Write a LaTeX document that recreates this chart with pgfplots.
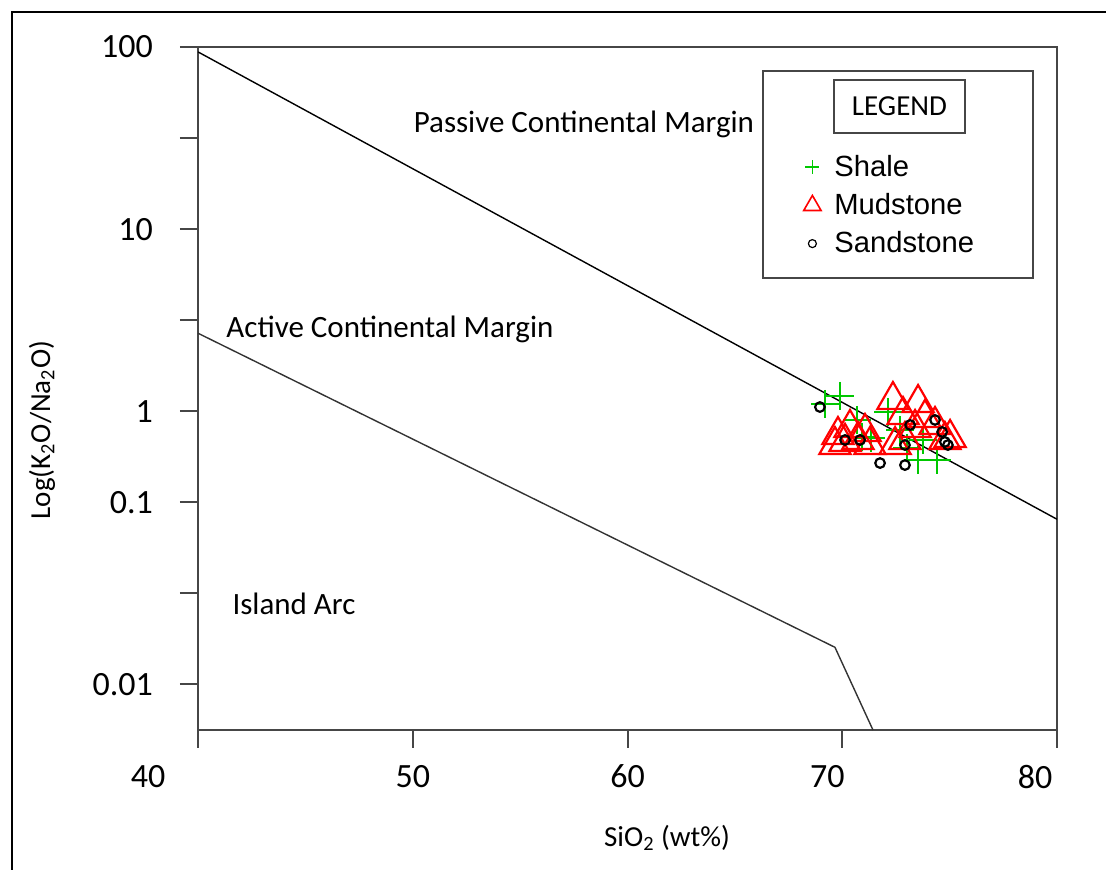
\documentclass[border=0pt]{standalone}
\usepackage{pgfplots}
\pgfplotsset{compat=1.18}
\usepackage{fontspec}
\setmainfont{Carlito}
\newfontfamily\arial{Liberation Sans}
\definecolor{shalegreen}{RGB}{0,200,0}
\definecolor{axisgray}{RGB}{70,70,70}
\begin{document}
\begin{tikzpicture}
\useasboundingbox (-99pt,-70pt) rectangle (454pt,365pt);
\draw[line width=1.1pt] (-93pt,-80pt) -- (-93pt,359pt) -- (470pt,359pt);
\begin{axis}[
  at={(0,0)}, anchor=south west, scale only axis,
  width=429.5pt, height=341.5pt,
  xmin=40, xmax=80, ymode=log, ymin=0.01775, ymax=100,
  axis line style={line width=1pt, draw=axisgray},
  every tick/.style={line width=1pt, axisgray},
  tick align=outside, major tick length=9pt,
  tick pos=left,
  yminorticks=false,
  xtick={40,50,60,70,80},
  xticklabels={\kern-25pt 40\kern25pt, 50, 60, \kern-7.5pt 70\kern7.5pt, \kern-11pt\raisebox{-3pt}{80}\kern11pt},
  ytick={100,31.623,10,3.1623,1,0.31623,0.1,0.031623},
  yticklabels={100,,10,,1,0.1,,0.01},
  ticklabel style={font=\fontsize{17}{20}\selectfont},
  yticklabel style={xshift=-10pt},
  xticklabel style={yshift=-5pt},
  /pgf/number format/assume math mode=true,
  xlabel={SiO\textsubscript{2} (wt\%)},
  xlabel style={font=\fontsize{14.5}{17}\selectfont, at={(axis description cs:0.546,-0.158)}, anchor=center},
  ylabel={Log(K\textsubscript{2}O/Na\textsubscript{2}O)},
  ylabel style={font=\fontsize{14.5}{17}\selectfont, at={(axis description cs:-0.1816,0.439)}, anchor=center, rotate=0},
  legend style={draw=none, fill=none, at={(axis description cs:0.7047,0.848)}, anchor=north west,
    font=\arial\fontsize{14.6}{16.5}\selectfont, row sep=3pt, inner sep=0pt},
  legend cell align=left,
  legend image code/.code={\draw[mark repeat=2,mark phase=2,#1] plot coordinates {(0cm,0cm)(0.15cm,0cm)(0.3cm,0cm)}; \path[draw=none,fill=none] (0.15cm,0cm) -- ++(9pt,0pt);},
]
% boundary lines
\addplot[black, line width=0.7pt, forget plot] coordinates {(40,94) (80,0.255)};
\addplot[black!80, line width=0.7pt, forget plot] coordinates {(40,2.68) (69.66,0.0505) (71.43,0.01775)};
% Shale
\addplot[only marks, mark=+, mark size=7pt, draw=shalegreen, line width=1.1pt,
  legend image post style={mark size=3.5pt, line width=0.8pt}] coordinates {
 (69.20,1.096) (69.90,1.212) (70.69,0.895) (70.92,0.722) (71.34,0.713)
 (72.13,0.990) (73.02,0.628) (73.76,0.695) (73.53,0.540) (74.41,0.540) (72.69,0.789)
};
\addlegendentry{Shale}
% Mudstone
\addplot[only marks, mark=triangle, mark size=9pt, draw=red, line width=1.1pt,
  legend image post style={mark size=5pt, line width=0.8pt}] coordinates {
 (72.36,1.152) (73.53,1.109) (72.83,0.953) (73.85,0.918) (73.39,0.809)
 (74.32,0.840) (74.78,0.695) (72.92,0.695) (72.46,0.652) (75.02,0.713)
 (69.80,0.740) (70.36,0.809) (70.13,0.678) (70.73,0.695) (71.06,0.769)
 (69.66,0.652) (71.29,0.652)
};
\addlegendentry{Mudstone}
% Sandstone
\addplot[only marks, mark=o, mark size=2.4pt, draw=black, line width=1.1pt,
  legend image post style={mark size=2pt, line width=0.6pt}] coordinates {
 (68.96,1.054) (71.76,0.519) (74.32,0.895) (74.65,0.769) (74.78,0.678)
 (72.92,0.652) (73.16,0.840) (70.13,0.695) (70.83,0.695) (72.92,0.506) (74.92,0.652)
};
\addlegendentry{Sandstone}
% annotations
\node[font=\fontsize{15.5}{18}\selectfont] at (axis cs:57.97,37.8) {Passive Continental Margin};
\node[font=\fontsize{15.5}{18}\selectfont] at (axis cs:48.94,2.83) {Active Continental Margin};
\node[font=\fontsize{15.5}{18}\selectfont] at (axis cs:44.47,0.0874) {Island Arc};
% legend frames
\draw[line width=0.8pt, axisgray] (axis description cs:0.6577,0.9649) rectangle (axis description cs:0.9721,0.6618);
\draw[line width=0.8pt, axisgray] (axis description cs:0.7404,0.9517) rectangle (axis description cs:0.8929,0.8741);
\node[font=\fontsize{14.5}{17}\selectfont] at (axis description cs:0.8166,0.9129) {LEGEND};
\end{axis}
\end{tikzpicture}
\end{document}
